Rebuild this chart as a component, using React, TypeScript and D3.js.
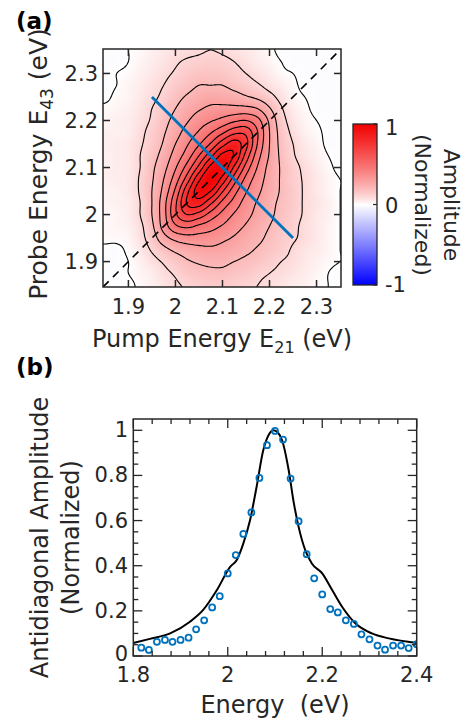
import React, { useMemo } from 'react';
import * as d3 from 'd3';

// ---- panel (a): 2D map, pump (x) vs probe (y) ----
const pumpEnergies = [1.85, 1.875, 1.9, 1.925, 1.95, 1.975, 2.0, 2.025, 2.05, 2.075, 2.1, 2.125, 2.15, 2.175, 2.2, 2.225, 2.25, 2.275, 2.3, 2.325, 2.35];
const probeEnergies = [1.85, 1.875, 1.9, 1.925, 1.95, 1.975, 2.0, 2.025, 2.05, 2.075, 2.1, 2.125, 2.15, 2.175, 2.2, 2.225, 2.25, 2.275, 2.3, 2.325, 2.35];
// one row per probe energy (bottom row first), one column per pump energy
const amplitudeMap = [
  [-0.01, -0.01, -0.01, 0.01, 0.03, 0.06, 0.09, 0.11, 0.13, 0.14, 0.14, 0.13, 0.11, 0.10, 0.08, 0.06, 0.04, 0.03, 0.01, 0.00, -0.01],
  [-0.01, -0.01, 0.00, 0.02, 0.04, 0.08, 0.11, 0.15, 0.17, 0.18, 0.18, 0.16, 0.15, 0.12, 0.10, 0.08, 0.06, 0.04, 0.02, 0.00, -0.01],
  [-0.01, -0.01, 0.00, 0.03, 0.07, 0.11, 0.15, 0.19, 0.21, 0.22, 0.22, 0.20, 0.18, 0.16, 0.13, 0.10, 0.08, 0.05, 0.03, 0.01, 0.00],
  [-0.01, -0.01, 0.01, 0.05, 0.11, 0.17, 0.22, 0.25, 0.27, 0.28, 0.27, 0.25, 0.22, 0.19, 0.16, 0.13, 0.09, 0.06, 0.04, 0.02, 0.00],
  [0.01, 0.01, 0.02, 0.07, 0.15, 0.26, 0.33, 0.36, 0.36, 0.35, 0.32, 0.29, 0.25, 0.22, 0.18, 0.14, 0.11, 0.08, 0.05, 0.02, 0.00],
  [0.01, 0.02, 0.03, 0.08, 0.18, 0.34, 0.48, 0.52, 0.48, 0.44, 0.39, 0.34, 0.29, 0.24, 0.20, 0.16, 0.12, 0.08, 0.05, 0.02, 0.00],
  [0.01, 0.02, 0.04, 0.10, 0.20, 0.36, 0.58, 0.70, 0.66, 0.56, 0.47, 0.39, 0.33, 0.27, 0.22, 0.17, 0.13, 0.09, 0.05, 0.03, 0.00],
  [0.02, 0.03, 0.04, 0.10, 0.20, 0.36, 0.58, 0.81, 0.85, 0.72, 0.57, 0.46, 0.36, 0.29, 0.23, 0.18, 0.14, 0.09, 0.06, 0.03, 0.00],
  [0.02, 0.03, 0.05, 0.11, 0.20, 0.33, 0.52, 0.77, 0.95, 0.90, 0.71, 0.54, 0.41, 0.32, 0.25, 0.19, 0.14, 0.09, 0.05, 0.02, 0.00],
  [0.03, 0.04, 0.05, 0.11, 0.19, 0.30, 0.45, 0.65, 0.88, 1.00, 0.86, 0.65, 0.47, 0.35, 0.26, 0.19, 0.13, 0.09, 0.05, 0.02, 0.00],
  [0.03, 0.04, 0.05, 0.10, 0.18, 0.27, 0.39, 0.54, 0.73, 0.93, 0.97, 0.78, 0.56, 0.39, 0.27, 0.19, 0.13, 0.08, 0.04, 0.01, -0.01],
  [0.03, 0.04, 0.05, 0.10, 0.16, 0.24, 0.34, 0.45, 0.60, 0.77, 0.93, 0.89, 0.66, 0.44, 0.29, 0.18, 0.11, 0.06, 0.03, 0.00, -0.01],
  [0.03, 0.04, 0.05, 0.09, 0.14, 0.21, 0.30, 0.39, 0.49, 0.61, 0.76, 0.85, 0.73, 0.49, 0.30, 0.17, 0.10, 0.05, 0.02, -0.01, -0.01],
  [0.03, 0.03, 0.04, 0.08, 0.13, 0.19, 0.26, 0.34, 0.41, 0.49, 0.58, 0.67, 0.67, 0.50, 0.30, 0.16, 0.08, 0.03, 0.01, -0.01, -0.01],
  [0.02, 0.03, 0.04, 0.07, 0.11, 0.17, 0.23, 0.29, 0.35, 0.39, 0.43, 0.48, 0.50, 0.43, 0.28, 0.14, 0.06, 0.02, 0.00, -0.01, -0.01],
  [0.01, 0.02, 0.03, 0.06, 0.10, 0.15, 0.20, 0.25, 0.29, 0.32, 0.33, 0.33, 0.33, 0.30, 0.21, 0.11, 0.04, 0.01, -0.01, -0.01, -0.01],
  [-0.01, 0.01, 0.02, 0.05, 0.08, 0.12, 0.17, 0.21, 0.24, 0.26, 0.25, 0.24, 0.21, 0.18, 0.13, 0.07, 0.02, 0.00, -0.01, -0.01, -0.01],
  [-0.01, 0.00, 0.02, 0.04, 0.07, 0.10, 0.14, 0.17, 0.20, 0.20, 0.20, 0.17, 0.14, 0.11, 0.07, 0.04, 0.01, -0.01, -0.01, -0.01, -0.01],
  [-0.01, 0.00, 0.01, 0.03, 0.05, 0.08, 0.11, 0.14, 0.16, 0.16, 0.15, 0.13, 0.10, 0.07, 0.04, 0.01, 0.00, -0.01, -0.01, -0.01, -0.01],
  [-0.01, -0.01, 0.00, 0.02, 0.04, 0.06, 0.09, 0.11, 0.12, 0.13, 0.12, 0.10, 0.07, 0.04, 0.02, 0.00, -0.01, -0.01, -0.01, -0.01, -0.01],
  [-0.01, -0.01, 0.00, 0.01, 0.03, 0.05, 0.07, 0.08, 0.09, 0.10, 0.09, 0.07, 0.05, 0.03, 0.01, -0.01, -0.01, -0.01, -0.01, -0.01, -0.01],
];
const contourLevels = [0, 0.1, 0.2, 0.3, 0.4, 0.5, 0.6, 0.7, 0.8, 0.9];
const mapTicks = [1.9, 2, 2.1, 2.2, 2.3];
const diagonalEnds = [1.846, 2.352];
const antidiagPump = [1.95, 2.25];
const antidiagProbe = [2.25, 1.95];
const colorbarTicks = [1, 0, -1];

// ---- panel (b): antidiagonal slice ----
const sliceEnergy = [1.817, 1.833, 1.85, 1.867, 1.883, 1.9, 1.917, 1.933, 1.95, 1.967, 1.983, 2.0, 2.017, 2.033, 2.05, 2.067, 2.083, 2.1, 2.117, 2.133, 2.15, 2.167, 2.183, 2.2, 2.217, 2.233, 2.25, 2.267, 2.283, 2.3, 2.317, 2.333, 2.35, 2.367, 2.383, 2.4];
const sliceAmp = [0.037, 0.027, 0.063, 0.071, 0.063, 0.071, 0.081, 0.118, 0.158, 0.215, 0.265, 0.366, 0.447, 0.541, 0.636, 0.789, 0.934, 0.997, 0.959, 0.786, 0.597, 0.451, 0.344, 0.273, 0.208, 0.193, 0.158, 0.142, 0.096, 0.074, 0.046, 0.028, 0.046, 0.046, 0.035, 0.052];
const fitEnergy = [1.8, 1.835, 1.878, 1.92, 1.948, 1.977, 2.005, 2.019, 2.033, 2.047, 2.061, 2.075, 2.088, 2.097, 2.106, 2.115, 2.129, 2.14, 2.15, 2.164, 2.178, 2.2, 2.221, 2.242, 2.27, 2.305, 2.341, 2.4];
const fitAmp = [0.058, 0.076, 0.1, 0.152, 0.204, 0.292, 0.395, 0.425, 0.499, 0.6, 0.749, 0.91, 0.985, 1.0, 0.99, 0.956, 0.823, 0.676, 0.572, 0.469, 0.41, 0.366, 0.292, 0.218, 0.145, 0.1, 0.078, 0.058];
const energyTicks = [1.8, 2, 2.2, 2.4];
const ampTicks = [0, 0.2, 0.4, 0.6, 0.8, 1];

const FONT = 'DejaVu Sans';
const INK = '#262626';
const BLUE = '#0072BD';

// white at 0, red at +1, blue at -1
function ampColor(t: number): [number, number, number] {
  const v = Math.max(-1, Math.min(1, t));
  if (v >= 0) {
    const s = Math.pow(v, 0.8);
    return [255 - 12 * s, 255 * (1 - s), 255 * (1 - s)];
  }
  return [255 * (1 + v), 255 * (1 + v), 255];
}

function cubic(p0: number, p1: number, p2: number, p3: number, t: number) {
  return p1 + 0.5 * t * (p2 - p0 + t * (2 * p0 - 5 * p1 + 4 * p2 - p3 + t * (3 * (p1 - p2) + p3 - p0)));
}

// smooth (catmull-rom) lookup into the map grid
function sampleMap(u: number, v: number) {
  const n = pumpEnergies.length;
  const step = pumpEnergies[1] - pumpEnergies[0];
  const fx = (u - pumpEnergies[0]) / step;
  const fy = (v - probeEnergies[0]) / step;
  const ix = Math.floor(fx), iy = Math.floor(fy);
  const tx = fx - ix, ty = fy - iy;
  const g = (i: number, j: number) => amplitudeMap[Math.max(0, Math.min(n - 1, j))][Math.max(0, Math.min(n - 1, i))];
  const rows = [-1, 0, 1, 2].map(m => cubic(g(ix - 1, iy + m), g(ix, iy + m), g(ix + 1, iy + m), g(ix + 2, iy + m), tx));
  return cubic(rows[0], rows[1], rows[2], rows[3], ty);
}

export default function App() {
  const W = 465, H = 722;
  const a = { left: 103, right: 341, top: 49, bottom: 287 };
  const x = d3.scaleLinear().domain([1.846, 2.352]).range([a.left, a.right]);
  const y = d3.scaleLinear().domain([1.846, 2.352]).range([a.bottom, a.top]);

  const heatUrl = useMemo(() => {
    const w = a.right - a.left, h = a.bottom - a.top;
    const cv = document.createElement('canvas');
    cv.width = w; cv.height = h;
    const ctx = cv.getContext('2d');
    if (!ctx) return '';
    const img = ctx.createImageData(w, h);
    for (let py = 0; py < h; py++) {
      for (let px = 0; px < w; px++) {
        const val = sampleMap(x.invert(a.left + px + 0.5), y.invert(a.top + py + 0.5));
        const c = ampColor(val);
        const k = (py * w + px) * 4;
        img.data[k] = c[0]; img.data[k + 1] = c[1]; img.data[k + 2] = c[2]; img.data[k + 3] = 255;
      }
    }
    ctx.putImageData(img, 0, 0);
    return cv.toDataURL();
  }, []);

  const contourPaths = useMemo(() => {
    const n = 141;
    const uS = d3.scaleLinear().domain([0, n - 1]).range(x.domain());
    const vS = d3.scaleLinear().domain([0, n - 1]).range([y.domain()[1], y.domain()[0]]);
    const values = new Array(n * n);
    for (let r = 0; r < n; r++) for (let c = 0; c < n; c++) values[r * n + c] = sampleMap(uS(c), vS(r));
    const cs = d3.contours().size([n, n]).thresholds(contourLevels)(values);
    const proj = d3.geoTransform({
      point(px: number, py: number) { (this as any).stream.point(x(uS(px - 0.5)), y(vS(py - 0.5))); },
    });
    const path = d3.geoPath(proj);
    return cs.map(c => path(c as any) || '');
  }, []);

  // colorbar
  const cb = { left: 353, right: 377, top: 124, bottom: 285 };
  const cy = d3.scaleLinear().domain([-1, 1]).range([cb.bottom, cb.top]);
  const gradStops = d3.range(0, 41).map(k => {
    const t = -1 + k * 0.05;
    const c = ampColor(t);
    return { off: (t + 1) / 2, col: `rgb(${Math.round(c[0])},${Math.round(c[1])},${Math.round(c[2])})` };
  });

  // panel b
  const b = { left: 133.3, right: 416.7, top: 419, bottom: 656 };
  const xb = d3.scaleLinear().domain([1.8, 2.4]).range([b.left, b.right]);
  const yb = d3.scaleLinear().domain([0, 1.05]).range([b.bottom, b.top]);
  const xbMinor = d3.range(0, 16).map(k => 1.8 + k * 0.04);
  const ybMinor = d3.range(0, 21).map(k => k * 0.05);
  const fitLine = d3.line<number>()
    .x((_, i) => xb(fitEnergy[i]))
    .y(d => yb(d))
    .curve(d3.curveMonotoneX)(fitAmp) || '';

  const tickFont = { fontFamily: FONT, fontSize: 21, fill: INK };
  const labelFont = { fontFamily: FONT, fontSize: 24, fill: INK };

  return (
    <svg width={W} height={H} style={{ position: 'absolute', left: 0, top: 0, background: '#fff' }}>
      <defs>
        <clipPath id="mapClip">
          <rect x={a.left} y={a.top} width={a.right - a.left} height={a.bottom - a.top} />
        </clipPath>
        <clipPath id="sliceClip">
          <rect x={b.left} y={b.top} width={b.right - b.left} height={b.bottom - b.top} />
        </clipPath>
        <linearGradient id="cbGrad" x1="0" y1="1" x2="0" y2="0">
          {gradStops.map((s, i) => <stop key={i} offset={s.off} stopColor={s.col} />)}
        </linearGradient>
      </defs>

      {/* ---------- panel (a) ---------- */}
      <text x={16} y={28.5} fontFamily={FONT} fontSize={23} fontWeight="bold" fill="#000">(a)</text>

      <g clipPath="url(#mapClip)">
        <image href={heatUrl} x={a.left} y={a.top} width={a.right - a.left} height={a.bottom - a.top} preserveAspectRatio="none" />
        {contourPaths.map((p, i) => (
          <path key={i} d={p} fill="none" stroke="#000" strokeWidth={1.1} strokeLinejoin="round" />
        ))}
        <line x1={x(diagonalEnds[0])} y1={y(diagonalEnds[0])} x2={x(diagonalEnds[1])} y2={y(diagonalEnds[1])}
          stroke="#000" strokeWidth={1.6} strokeDasharray="8,6" />
        <line x1={x(antidiagPump[0])} y1={y(antidiagProbe[0])} x2={x(antidiagPump[1])} y2={y(antidiagProbe[1])}
          stroke={BLUE} strokeWidth={2.8} />
      </g>

      <rect x={a.left} y={a.top} width={a.right - a.left} height={a.bottom - a.top} fill="none" stroke={INK} strokeWidth={1.5} />
      {mapTicks.map(t => (
        <g key={t} stroke={INK} strokeWidth={1.5}>
          <line x1={x(t)} x2={x(t)} y1={a.bottom} y2={a.bottom - 7} />
          <line x1={x(t)} x2={x(t)} y1={a.top} y2={a.top + 7} />
          <line x1={a.left} x2={a.left + 7} y1={y(t)} y2={y(t)} />
          <line x1={a.right} x2={a.right - 7} y1={y(t)} y2={y(t)} />
        </g>
      ))}
      {mapTicks.map(t => (
        <text key={'x' + t} x={x(t)} y={314} textAnchor="middle" {...tickFont}>{`${t}`}</text>
      ))}
      {mapTicks.map(t => (
        <text key={'y' + t} x={98} y={y(t) + 7.5} textAnchor="end" {...tickFont}>{`${t}`}</text>
      ))}
      <text x={(a.left + a.right) / 2} y={347} textAnchor="middle" {...labelFont}>
        Pump Energy E<tspan dy={6} fontSize={16}>21</tspan><tspan dy={-6}> (eV)</tspan>
      </text>
      <text transform={`translate(47,${(a.top + a.bottom) / 2 - 4}) rotate(-90)`} textAnchor="middle" fontFamily={FONT} fontSize={25} fill={INK}>
        Probe Energy E<tspan dy={6} fontSize={17}>43</tspan><tspan dy={-6}> (eV)</tspan>
      </text>

      {/* colorbar */}
      <rect x={cb.left} y={cb.top} width={cb.right - cb.left} height={cb.bottom - cb.top} fill="url(#cbGrad)" stroke={INK} strokeWidth={1.3} />
      {colorbarTicks.map(t => (
        <g key={'cb' + t}>
          <line x1={cb.right} x2={cb.right - 4} y1={cy(t)} y2={cy(t)} stroke={INK} strokeWidth={1.2} />
          <text x={385} y={cy(t) + 7.5 + (t === 1 ? 3 : t === -1 ? -1 : 1)} {...tickFont}>{t === -1 ? '-1' : `${t}`}</text>
        </g>
      ))}
      <text transform={`translate(444,205) rotate(90)`} textAnchor="middle" fontFamily={FONT} fontSize={22} fill={INK}>Amplitude</text>
      <text transform={`translate(415,205) rotate(90)`} textAnchor="middle" fontFamily={FONT} fontSize={22} fill={INK}>(Normalized)</text>

      {/* ---------- panel (b) ---------- */}
      <text x={16} y={375} fontFamily={FONT} fontSize={23} fontWeight="bold" fill="#000">(b)</text>

      <g clipPath="url(#sliceClip)">
        <path d={fitLine} fill="none" stroke="#000" strokeWidth={2} />
        {sliceEnergy.map((e, i) => (
          <circle key={i} cx={xb(e)} cy={yb(sliceAmp[i])} r={3} fill="none" stroke={BLUE} strokeWidth={1.8} />
        ))}
      </g>

      <rect x={b.left} y={b.top} width={b.right - b.left} height={b.bottom - b.top} fill="none" stroke={INK} strokeWidth={1.5} />
      {xbMinor.map((t, k) => {
        const len = k % 5 === 0 ? 9 : 5;
        return (
          <g key={'xm' + k} stroke={INK} strokeWidth={1.3}>
            <line x1={xb(t)} x2={xb(t)} y1={b.bottom} y2={b.bottom - len} />
            <line x1={xb(t)} x2={xb(t)} y1={b.top} y2={b.top + len} />
          </g>
        );
      })}
      {ybMinor.map((t, k) => {
        const len = k % 4 === 0 ? 9 : 5;
        return (
          <g key={'ym' + k} stroke={INK} strokeWidth={1.3}>
            <line x1={b.left} x2={b.left + len} y1={yb(t)} y2={yb(t)} />
            <line x1={b.right} x2={b.right - len} y1={yb(t)} y2={yb(t)} />
          </g>
        );
      })}
      {energyTicks.map(t => (
        <text key={'eb' + t} x={xb(t)} y={682} textAnchor="middle" {...tickFont}>{`${t}`}</text>
      ))}
      {ampTicks.map(t => (
        <text key={'ab' + t} x={128} y={yb(t) + (t === 0 ? 4.5 : 7)} textAnchor="end" {...tickFont}>{`${t}`}</text>
      ))}
      <text x={275} y={713} textAnchor="middle" {...labelFont} style={{ whiteSpace: 'pre' }}>{'Energy  (eV)'}</text>
      <text transform={`translate(48,${(b.top + b.bottom) / 2}) rotate(-90)`} textAnchor="middle" {...labelFont}>Antidiagonal Amplitude</text>
      <text transform={`translate(79,${(b.top + b.bottom) / 2}) rotate(-90)`} textAnchor="middle" {...labelFont}>(Normalized)</text>
    </svg>
  );
}
